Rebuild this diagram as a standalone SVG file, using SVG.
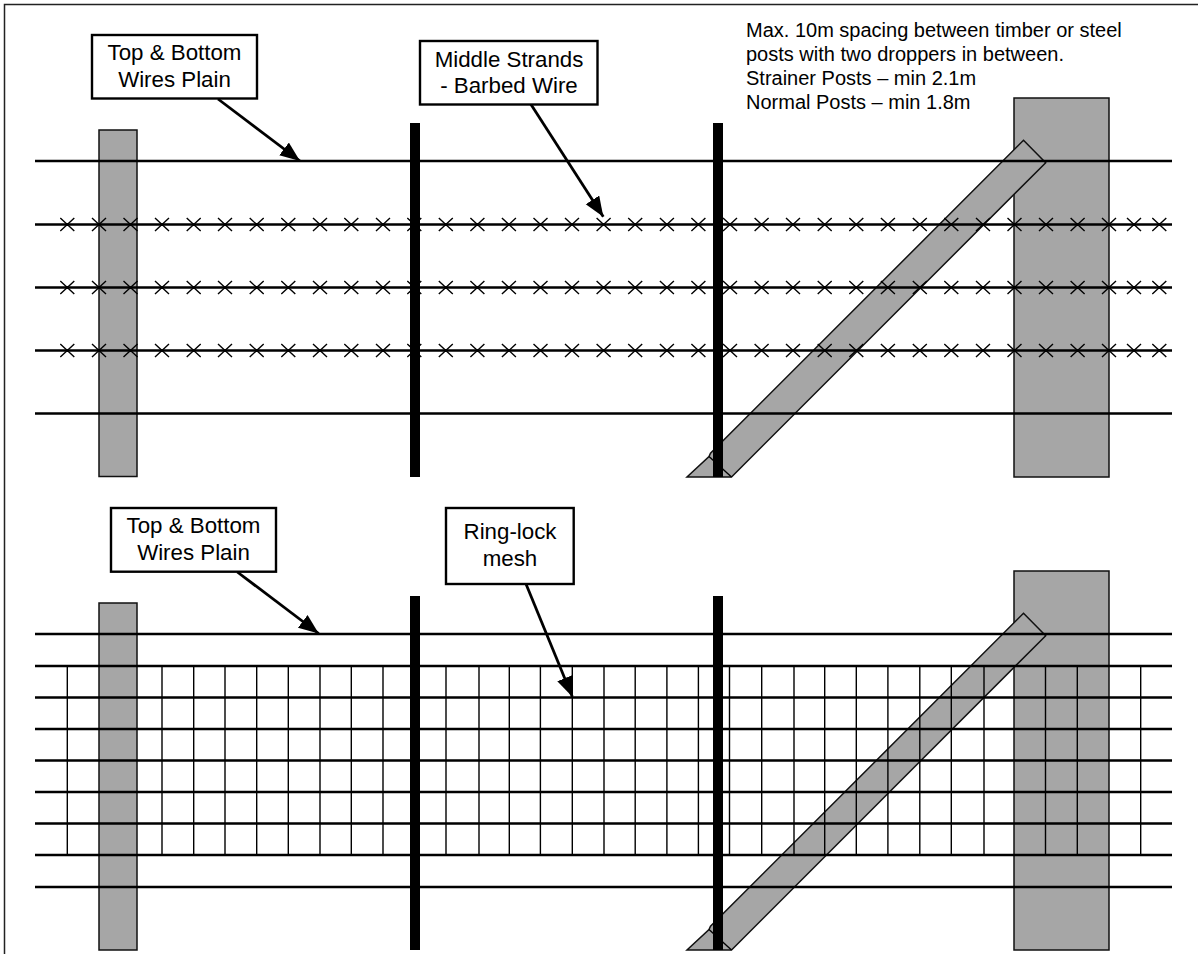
<svg xmlns="http://www.w3.org/2000/svg" width="1198" height="954" viewBox="0 0 1198 954">
<defs>
<style>
text{font-family:"Liberation Sans",Arial,sans-serif;fill:#000}
.post{fill:#a6a6a6;stroke:#111;stroke-width:1.5}
.wire{stroke:#000;stroke-width:2.4;fill:none}
.thin{stroke:#000;stroke-width:1.4;fill:none}
.drop{fill:#000}
.box{fill:#fff;stroke:#000;stroke-width:2.4}
.lab{font-size:22.3px;text-anchor:middle}
.note{font-size:20px}
.arrow{stroke:#000;stroke-width:2.8;fill:none;marker-end:url(#ah)}
</style>
<marker id="ah" markerUnits="userSpaceOnUse" markerWidth="22" markerHeight="18" refX="20" refY="8" orient="auto"><path d="M0 0L20 8L0 16Z" fill="#000"/></marker>
</defs>
<rect width="1198" height="954" fill="#fff"/>
<path d="M4.500 954V4.500H1198" fill="none" stroke="#222" stroke-width="1.500"/>
<g id="top-fence">
<rect id="t-post-l" class="post" x="99" y="130" width="38" height="346.500"/>
<rect id="t-post-r" class="post" x="1014" y="98" width="95" height="379"/>
<path id="t-brace" class="post" d="M1023.500 140.300L1045.700 162.700L731.500 477H687L709 456.500L710.500 453.300Z"/>
<path class="thin" d="M709 456.500L731.500 477"/>
<path class="wire" d="M35 161H1172M35 224.500H1172M35 287.500H1172M35 350.500H1172M35 413.500H1172"/>
<path id="t-barbs" class="thin" d="M60.300 218l14 13m0-13l-14 13M92 218l14 13m0-13l-14 13M123.500 218l14 13m0-13l-14 13M155 218l14 13m0-13l-14 13M186.700 218l14 13m0-13l-14 13M218 218l14 13m0-13l-14 13M249.700 218l14 13m0-13l-14 13M281.300 218l14 13m0-13l-14 13M313 218l14 13m0-13l-14 13M344.300 218l14 13m0-13l-14 13M376 218l14 13m0-13l-14 13M407.300 218l14 13m0-13l-14 13M438.800 218l14 13m0-13l-14 13M470.400 218l14 13m0-13l-14 13M501.900 218l14 13m0-13l-14 13M533.500 218l14 13m0-13l-14 13M565 218l14 13m0-13l-14 13M596.600 218l14 13m0-13l-14 13M628.200 218l14 13m0-13l-14 13M659.900 218l14 13m0-13l-14 13M691.400 218l14 13m0-13l-14 13M723 218l14 13m0-13l-14 13M754.600 218l14 13m0-13l-14 13M786 218l14 13m0-13l-14 13M817.700 218l14 13m0-13l-14 13M849.300 218l14 13m0-13l-14 13M880.900 218l14 13m0-13l-14 13M912.800 218l14 13m0-13l-14 13M944.300 218l14 13m0-13l-14 13M976 218l14 13m0-13l-14 13M1007.500 218l14 13m0-13l-14 13M1039 218l14 13m0-13l-14 13M1070.600 218l14 13m0-13l-14 13M1102 218l14 13m0-13l-14 13M1127 218l14 13m0-13l-14 13M1152.300 218l14 13m0-13l-14 13"/>
<use href="#t-barbs" y="63"/>
<use href="#t-barbs" y="126"/>
<rect class="drop" x="410" y="123" width="10" height="354"/>
<rect class="drop" x="713" y="123" width="10" height="354"/>
</g>
<g id="bottom-fence">
<rect id="b-post-r" class="post" x="1014" y="571" width="95" height="379"/>
<path id="b-brace" class="post" d="M1023.500 613.300L1045.700 635.700L731.500 950H687L709 929.500L710.500 926.300Z"/>
<path class="thin" d="M709 929.500L731.500 950"/>
<path id="mesh" class="thin" d="M67.300 666V855M162 666V855M193.700 666V855M225 666V855M256.700 666V855M288.300 666V855M320 666V855M351.300 666V855M383 666V855M446 666V855M479 666V855M509.300 666V855M540.400 666V855M572.300 666V855M604 666V855M635.200 666V855M666.900 666V855M698.400 666V855M729.500 666V855M761.700 666V855M794 666V855M824.700 666V855M856.300 666V855M887.900 666V855M919.800 666V855M951.300 666V855M984 666V855M1045.500 666V855M1077.300 666V855M1140.700 666V855"/>
<rect id="b-post-l" class="post" x="99" y="603" width="38" height="347"/>
<path class="wire" d="M35 634H1172M35 666H1172M35 697.500H1172M35 729H1172M35 760.500H1172M35 792H1172M35 823.500H1172M35 855H1172M35 887H1172"/>
<rect class="drop" x="410" y="596" width="10" height="354"/>
<rect class="drop" x="713" y="596" width="10" height="354"/>
</g>
<g id="connectors">
<path class="arrow" d="M218 99L300 161"/>
<path class="arrow" d="M530.700 104L603.300 216.700"/>
<path class="arrow" d="M237.300 572L318.700 633.500"/>
<path class="arrow" d="M526 584L572.300 696.700"/>
</g>
<g id="label-top-plain"><rect class="box" x="92" y="35" width="165" height="63.500"/><text class="lab" x="174.500" y="60">Top &amp; Bottom</text><text class="lab" x="174.500" y="87">Wires Plain</text></g>
<g id="label-barbed"><rect class="box" x="420" y="41" width="177.500" height="63.500"/><text class="lab" x="509" y="66.700">Middle Strands</text><text class="lab" x="509" y="93">- Barbed Wire</text></g>
<g id="label-bottom-plain"><rect class="box" x="111" y="508" width="165" height="63.700"/><text class="lab" x="193.500" y="532.500">Top &amp; Bottom</text><text class="lab" x="193.500" y="559.500">Wires Plain</text></g>
<g id="label-mesh"><rect class="box" x="446" y="508" width="127.700" height="76"/><text class="lab" x="510" y="539">Ring-lock</text><text class="lab" x="510" y="565.700">mesh</text></g>
<g id="note"><text class="note" x="746" y="36.700">Max. 10m spacing between timber or steel</text><text class="note" x="746" y="60.700">posts with two droppers in between.</text><text class="note" x="746" y="85">Strainer Posts – min 2.1m</text><text class="note" x="746" y="109">Normal Posts – min 1.8m</text></g>
</svg>
